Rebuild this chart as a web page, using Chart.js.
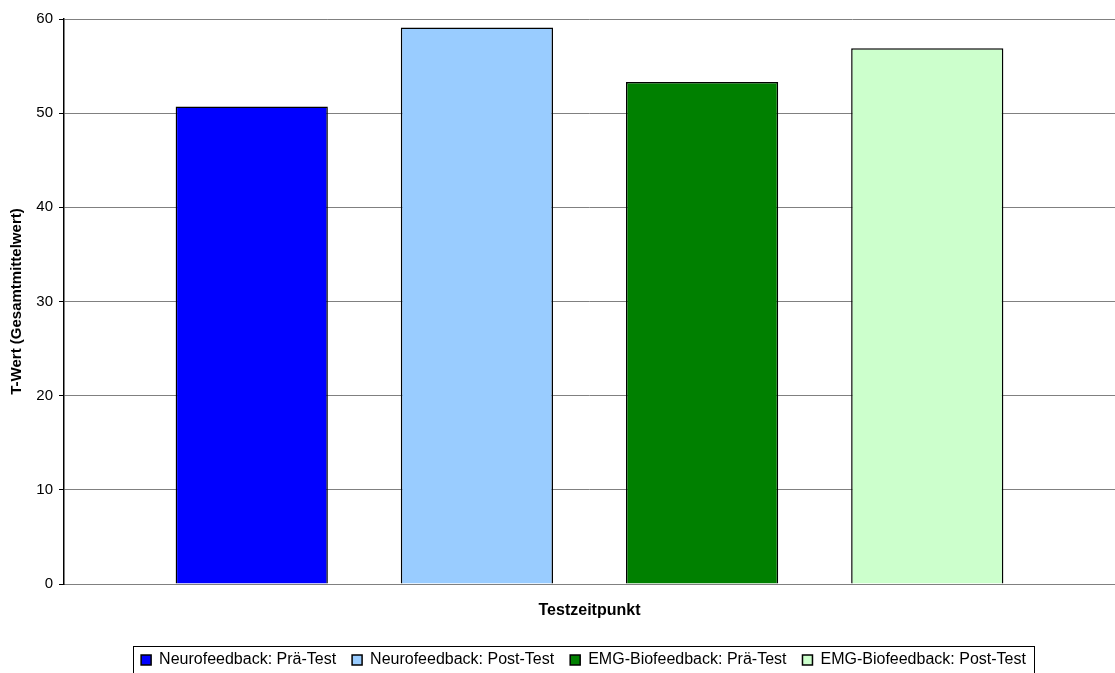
<!DOCTYPE html>
<html>
<head>
<meta charset="utf-8">
<script src="https://cdn.jsdelivr.net/npm/chart.js@4.4.1/dist/chart.umd.min.js"></script>
<style>
  html, body { margin: 0; padding: 0; background: #fff; overflow: hidden; height: 673px; }
  #wrap { width: 1115px; height: 678px; }
</style>
</head>
<body>
<div id="wrap"><canvas id="tWertChart"></canvas></div>
<script>
// Gesamtmittelwerte der T-Werte je Gruppe und Messzeitpunkt
const categories = ["Testzeitpunkt"];
const seriesNames = [
  "Neurofeedback: Prä-Test",
  "Neurofeedback: Post-Test",
  "EMG-Biofeedback: Prä-Test",
  "EMG-Biofeedback: Post-Test"
];
const seriesValues = [50.7, 59.1, 53.3, 56.9];
const seriesColors = ["#0000FF", "#99CCFF", "#008000", "#CCFFCC"];
const yTicks = [0, 10, 20, 30, 40, 50, 60];

const FONT = "'Liberation Sans', Arial, sans-serif";

// nudge the legend row a bit to the right and draw a frame around it
const legendFrame = {
  id: "legendFrame",
  afterLayout(chart) {
    chart.legend.left += 52;
  },
  afterDraw(chart) {
    const boxes = chart.legend.legendHitBoxes;
    if (!boxes || !boxes.length) return;
    const first = boxes[0];
    const last = boxes[boxes.length - 1];
    const ctx = chart.ctx;
    ctx.save();
    ctx.strokeStyle = "#000";
    ctx.lineWidth = 1;
    const left = Math.round(first.left - 8) + 0.5;
    const right = Math.round(last.left + last.width + 8) + 0.5;
    const top = Math.round(first.top - 6) + 0.5;
    ctx.strokeRect(left, top, right - left, 60);
    ctx.restore();
  }
};

new Chart(document.getElementById("tWertChart").getContext("2d"), {
  type: "bar",
  data: {
    labels: categories,
    datasets: seriesNames.map((name, i) => ({
      label: name,
      data: [seriesValues[i]],
      backgroundColor: seriesColors[i],
      borderColor: "#000",
      borderWidth: 1.5,
      borderSkipped: "bottom"
    }))
  },
  options: {
    responsive: true,
    maintainAspectRatio: false,
    animation: false,
    categoryPercentage: 0.857,
    barPercentage: 0.676,
    layout: { padding: { top: 19, right: 0, left: 0, bottom: 0 } },
    plugins: {
      tooltip: { enabled: false },
      legend: {
        position: "bottom",
        labels: {
          color: "#000",
          font: { family: FONT, size: 16 },
          boxWidth: 10,
          boxHeight: 10,
          padding: 16
        }
      }
    },
    scales: {
      x: {
        grid: { display: false },
        border: { color: "#808080", width: 1 },
        ticks: { display: false },
        title: {
          display: true,
          text: "Testzeitpunkt",
          color: "#000",
          font: { family: FONT, size: 16, weight: "bold" },
          padding: { top: 0, bottom: 16 }
        },
        afterFit(scale) { scale.height = 52; }
      },
      y: {
        min: 0,
        max: 60,
        afterBuildTicks(scale) { scale.ticks = yTicks.map(v => ({ value: v })); },
        grid: {
          color: "#808080",
          tickColor: "#000",
          tickLength: 5,
          drawTicks: true
        },
        border: { color: "#000", width: 1.5 },
        ticks: {
          color: "#000",
          font: { family: FONT, size: 15 },
          padding: 6
        },
        title: {
          display: true,
          text: "T-Wert (Gesamtmittelwert)",
          color: "#000",
          font: { family: FONT, size: 15, weight: "bold" },
          padding: { top: 8, bottom: 0 }
        },
        afterFit(scale) { scale.width = 64; }
      }
    }
  },
  plugins: [legendFrame]
});
</script>
</body>
</html>
